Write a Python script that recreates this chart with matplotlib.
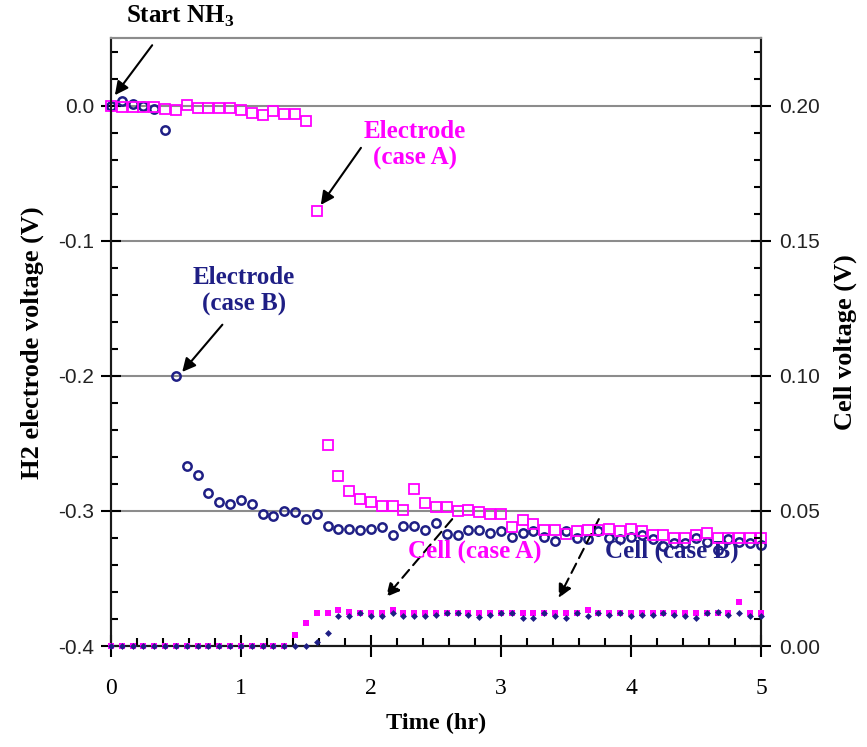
import numpy as np
import matplotlib
matplotlib.use('Agg')
import matplotlib.pyplot as plt
from matplotlib.ticker import MultipleLocator, FormatStrFormatter

plt.rcParams['font.family'] = ['Liberation Serif', 'DejaVu Serif']
plt.rcParams['axes.unicode_minus'] = False
plt.rcParams['mathtext.fontset'] = 'custom'
plt.rcParams['mathtext.rm'] = 'Liberation Serif:bold'
plt.rcParams['mathtext.bf'] = 'Liberation Serif:bold'

# time in hours, one reading every 5 minutes
time_hr = np.arange(61) / 12.0

# H2 electrode voltage (V), case A (open squares)
elec_a = [0.000, -0.001, -0.001, -0.001, -0.001, -0.002, -0.003, 0.0005, -0.0017, -0.0017,
          -0.0017, -0.0017, -0.003, -0.005, -0.007, -0.004, -0.006, -0.006, -0.011, -0.078,
          -0.251, -0.274, -0.285, -0.291, -0.293, -0.296, -0.296, -0.299, -0.284, -0.294,
          -0.297, -0.297, -0.300, -0.299, -0.301, -0.302, -0.302, -0.312, -0.307, -0.310,
          -0.314, -0.314, -0.317, -0.315, -0.314, -0.314, -0.313, -0.315, -0.313, -0.315,
          -0.318, -0.318, -0.320, -0.320, -0.318, -0.316, -0.320, -0.320, -0.320, -0.320,
          -0.320]

# H2 electrode voltage (V), case B (open circles)
elec_b = [0.000, 0.004, 0.0015, 0.000, -0.002, -0.018, -0.200, -0.267, -0.273, -0.287,
          -0.293, -0.295, -0.292, -0.295, -0.302, -0.304, -0.300, -0.301, -0.306, -0.302,
          -0.311, -0.313, -0.313, -0.314, -0.313, -0.312, -0.318, -0.311, -0.311, -0.314,
          -0.309, -0.317, -0.318, -0.314, -0.314, -0.316, -0.315, -0.319, -0.316, -0.315,
          -0.319, -0.322, -0.315, -0.320, -0.321, -0.315, -0.320, -0.321, -0.319, -0.318,
          -0.321, -0.326, -0.324, -0.324, -0.320, -0.323, -0.329, -0.321, -0.323, -0.324,
          -0.325]

# cell voltage (V), case A (filled squares)
cell_a = [0.0] * 17 + [0.0040, 0.0086, 0.0123, 0.0123, 0.0133, 0.0126, 0.0121, 0.0121, 0.0121,
                       0.0133, 0.0121, 0.0121, 0.0121, 0.0121, 0.0121, 0.0121, 0.0121, 0.0121,
                       0.0121, 0.0121, 0.0121, 0.0121, 0.0121, 0.0121, 0.0121, 0.0121, 0.0121,
                       0.0133, 0.0121, 0.0121, 0.0121, 0.0121, 0.0121, 0.0121, 0.0121, 0.0121,
                       0.0121, 0.0121, 0.0121, 0.0121, 0.0121, 0.0164, 0.0123, 0.0121]

# cell voltage (V), case B (small filled dots)
cell_b = [0.0] * 19 + [0.0015, 0.0049,
                       0.0111, 0.0111, 0.0121, 0.0111, 0.0111, 0.0123, 0.0111, 0.0111, 0.0111, 0.0115,
                       0.0121, 0.0121, 0.0115, 0.0106, 0.0115, 0.0121, 0.0123, 0.0104, 0.0104, 0.0121,
                       0.0111, 0.0104, 0.0121, 0.0111, 0.0121, 0.0115, 0.0121, 0.0111, 0.0115, 0.0115,
                       0.0121, 0.0115, 0.0111, 0.0104, 0.0121, 0.0126, 0.0115, 0.0123, 0.0111, 0.0111]

navy = '#1f1f85'
pink = '#ff00ff'

fig = plt.figure(figsize=(8.67, 7.47), dpi=100)
ax = fig.add_axes([0.128, 0.1352, 0.7497, 0.8133])
ax2 = ax.twinx()

ax.plot(time_hr, elec_b, 'o', ms=6, mfc='none', mec=navy, mew=1.8, zorder=3, clip_on=False)
ax.plot(time_hr, elec_a, 's', ms=6.5, mfc='none', mec=pink, mew=1.3, zorder=4, clip_on=False)
ax2.plot(time_hr, cell_a, 's', ms=5, color=pink, mew=0, zorder=3, clip_on=False)
ax2.plot(time_hr, cell_b, 'D', ms=3.5, color=navy, mew=0, zorder=4, clip_on=False)

ax.set_xlim(0, 5)
ax.set_ylim(-0.4, 0.05)
ax2.set_ylim(0, 0.225)

ax.xaxis.set_major_locator(MultipleLocator(1))
ax.xaxis.set_minor_locator(MultipleLocator(0.2))
ax.set_yticks([-0.4, -0.3, -0.2, -0.1, 0.0])
ax.yaxis.set_minor_locator(MultipleLocator(0.02))
ax.yaxis.set_major_formatter(FormatStrFormatter('%.1f'))
ax2.set_yticks([0.0, 0.05, 0.10, 0.15, 0.20])
ax2.yaxis.set_minor_locator(MultipleLocator(0.01))
ax2.yaxis.set_major_formatter(FormatStrFormatter('%.2f'))

ax.grid(axis='y', which='major', color='#8c8c8c', lw=1.5)
ax.set_axisbelow(True)

for a in (ax, ax2):
    a.spines['top'].set_color('#8c8c8c')
    a.spines['top'].set_linewidth(1.5)
    for s in ('left', 'right', 'bottom'):
        a.spines[s].set_linewidth(1.5)
        a.spines[s].set_color('#1a1a1a')

ax.tick_params(axis='x', which='major', direction='inout', length=16, width=1.5, pad=15, labelsize=17)
ax.tick_params(axis='x', which='minor', direction='in', length=6, width=1.5)
ax.tick_params(axis='y', which='major', direction='inout', length=14, width=1.5, pad=5)
ax.tick_params(axis='y', which='minor', direction='in', length=5, width=1.5)
ax2.tick_params(axis='y', which='major', direction='inout', length=14, width=1.5, pad=6)
ax2.tick_params(axis='y', which='minor', direction='in', length=5, width=1.5)

for lab in ax.get_yticklabels() + ax2.get_yticklabels():
    lab.set_fontfamily('Liberation Sans')
    lab.set_fontsize(15)
    lab.set_color('#222222')

ax.set_xlabel('Time (hr)', fontsize=17.5, fontweight='bold', labelpad=10)
ax.set_ylabel('H2 electrode voltage (V)', fontsize=19, fontweight='bold', labelpad=10)
ax2.set_ylabel('Cell voltage (V)', fontsize=19, fontweight='bold', labelpad=10)

arrow = dict(arrowstyle='-|>', color='black', lw=1.5, mutation_scale=20, shrinkA=0, shrinkB=0)
dashed = dict(arrowstyle='-|>', color='black', lw=1.5, mutation_scale=20, shrinkA=0, shrinkB=0,
              linestyle=(0, (5, 3)))

ax.annotate('', xy=(0.03, 0.008), xytext=(0.317, 0.045), arrowprops=arrow, annotation_clip=False)
ax.text(0.533, 0.066, r'Start NH$_\mathbf{3}$', fontsize=18, fontweight='bold',
        ha='center', va='center', clip_on=False)

ax.annotate('', xy=(1.614, -0.0733), xytext=(1.923, -0.031), arrowprops=arrow)
ax.text(2.34, -0.029, 'Electrode\n(case A)', color=pink, fontsize=18, fontweight='bold',
        ha='center', va='center', linespacing=1.2)

ax.annotate('', xy=(0.548, -0.197), xytext=(0.857, -0.162), arrowprops=arrow)
ax.text(1.02, -0.137, 'Electrode\n(case B)', color=navy, fontsize=18, fontweight='bold',
        ha='center', va='center', linespacing=1.2)

ax.annotate('', xy=(2.116, -0.3637), xytext=(2.625, -0.306), arrowprops=dashed)
ax.text(2.795, -0.330, 'Cell (case A)', color=pink, fontsize=18, fontweight='bold',
        ha='center', va='center')

ax.annotate('', xy=(3.444, -0.3644), xytext=(3.753, -0.306), arrowprops=dashed)
ax.text(4.317, -0.330, 'Cell (case B)', color=navy, fontsize=18, fontweight='bold',
        ha='center', va='center')

fig.savefig('out.png', dpi=100)
